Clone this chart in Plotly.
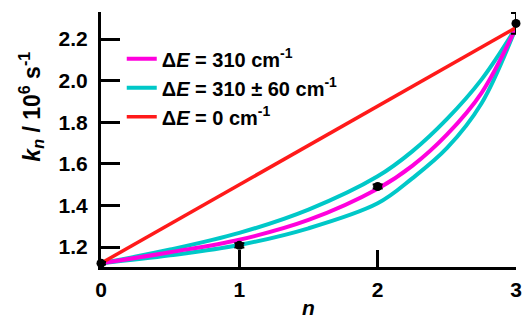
import plotly.graph_objects as go

# Measured rate constants k_n (10^6 s^-1) with uncertainties
n_obs = [0, 1, 2, 3]
k_obs = [1.122, 1.208, 1.491, 2.275]
k_err = [0.006, 0.01, 0.01, 0.05]

# Model curves sampled along n
n_model = [0, 0.5, 1, 1.5, 2, 2.25, 2.5, 2.75, 3]
k_de310 = [1.122, 1.175, 1.235, 1.33, 1.48, 1.59, 1.74, 1.94, 2.255]
k_de250 = [1.122, 1.188, 1.268, 1.38, 1.54, 1.66, 1.815, 2.005, 2.255]
k_de370 = [1.122, 1.16, 1.21, 1.29, 1.41, 1.53, 1.675, 1.89, 2.255]
n_lin = [0, 3]
k_de0 = [1.122, 2.255]

labels = [
    "Δ<i>E</i> = 310 cm<sup>-1</sup>",
    "Δ<i>E</i> = 310 ± 60 cm<sup>-1</sup>",
    "Δ<i>E</i> = 0 cm<sup>-1</sup>",
]

MAGENTA = "#ff00dd"
CYAN = "#00c8c8"
RED = "#ff1a1a"
FS = 21
SMOOTH = 1.0

fig = go.Figure()
fig.add_trace(go.Scatter(x=n_model, y=k_de250, mode="lines", name=labels[1],
                         line=dict(color=CYAN, width=4, shape="spline", smoothing=SMOOTH),
                         legendrank=2))
fig.add_trace(go.Scatter(x=n_model, y=k_de370, mode="lines", showlegend=False,
                         line=dict(color=CYAN, width=4, shape="spline", smoothing=SMOOTH)))
fig.add_trace(go.Scatter(x=n_model, y=k_de310, mode="lines", name=labels[0],
                         line=dict(color=MAGENTA, width=4, shape="spline", smoothing=SMOOTH),
                         legendrank=1))
fig.add_trace(go.Scatter(x=n_lin, y=k_de0, mode="lines", name=labels[2],
                         line=dict(color=RED, width=3.5), legendrank=3))
fig.add_trace(go.Scatter(x=n_obs, y=k_obs, mode="markers", showlegend=False,
                         marker=dict(color="black", size=9),
                         error_y=dict(type="data", array=k_err, visible=True,
                                      color="black", thickness=2, width=5),
                         cliponaxis=False))

fig.add_annotation(
    text="<i>k</i><sub><i>n</i></sub> / 10<sup>6</sup> s<sup>-1</sup>",
    xref="paper", yref="paper", x=-0.168, y=0.63,
    xanchor="center", yanchor="middle", textangle=-90,
    showarrow=False, font=dict(size=23, color="black", weight="bold"),
)

fig.update_layout(
    width=526, height=324,
    margin=dict(l=101, r=10, t=12, b=57),
    paper_bgcolor="white", plot_bgcolor="white",
    font=dict(family="Liberation Sans, Arial, sans-serif", size=FS,
              color="black", weight="bold"),
    showlegend=True,
    legend=dict(x=0.05, y=0.893, xanchor="left", yanchor="top",
                bgcolor="rgba(0,0,0,0)", tracegroupgap=0,
                font=dict(size=20, weight="bold")),
    xaxis=dict(
        range=[0, 3], tickvals=[0, 1, 2, 3], ticks="inside", ticklen=17,
        tickwidth=3, tickcolor="black", showline=True, linewidth=3,
        linecolor="black", showgrid=False, zeroline=False,
        ticklabelstandoff=2, automargin=False,
        title=dict(text="<i>n</i>", standoff=1,
                   font=dict(size=FS, weight="bold")),
    ),
    yaxis=dict(
        range=[1.104, 2.33], tickvals=[1.2, 1.4, 1.6, 1.8, 2.0, 2.2],
        ticktext=["1.2", "1.4", "1.6", "1.8", "2.0", "2.2"],
        ticks="inside", ticklen=19, tickwidth=3, tickcolor="black",
        showline=True, linewidth=3, linecolor="black", showgrid=False,
        zeroline=False, ticklabelstandoff=6, automargin=False,
    ),
)

fig.write_html("out.html")
